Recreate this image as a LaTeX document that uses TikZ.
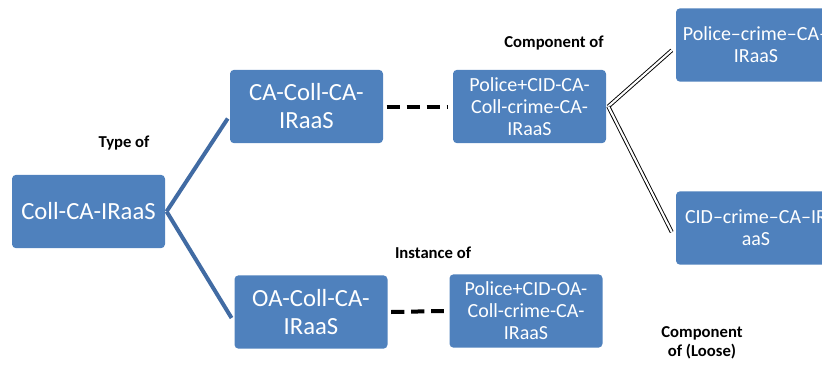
\documentclass[tikz,border=0pt]{standalone}
\usepackage{fontspec}
\setmainfont{Carlito}
\definecolor{boxblue}{RGB}{79,129,189}
\definecolor{linkblue}{RGB}{65,107,163}
\tikzset{
  box/.style={fill=boxblue, rounded corners=3pt, text=white, align=center,
    minimum width=114.75pt, minimum height=55pt, inner sep=1pt, font=\fontsize{15}{16.5}\selectfont},
  bigbox/.style={box, font=\fontsize{18.5}{21}\selectfont},
  lbl/.style={font=\bfseries\fontsize{12.5}{14}\selectfont, align=center},
  typeline/.style={linkblue, line width=3pt},
  instline/.style={black, line width=3pt, dash pattern=on 10pt off 5pt},
  compline/.style={black, double=white, double distance=1.6pt, line width=0.7pt}
}
\begin{document}
\begin{tikzpicture}[x=0.75pt, y=-0.75pt]
  \useasboundingbox (0,0) rectangle (822,365);

  % boxes
  \node[bigbox] (root) at (88.5,211.5) {Coll-CA-IRaaS};
  \node[bigbox] (ca) at (306.5,106.5) {CA-Coll-CA-\\IRaaS};
  \node[bigbox] (oa) at (311,312) {OA-Coll-CA-\\IRaaS};
  \node[box] (pca) at (529.5,106.5) {Police+CID-CA-\\Coll-crime-CA-\\IRaaS};
  \node[box] (poa) at (526,311) {Police+CID-OA-\\Coll-crime-CA-\\IRaaS};
  \node[box, minimum width=120pt] (pol) at (756,45) {Police–crime–CA–\\IRaaS};
  \node[box, minimum width=120pt] (cid) at (756,228) {CID–crime–CA–IR\\aaS};

  % type of
  \draw[typeline] ([xshift=1pt]root.east) -- ([xshift=-1.5pt,yshift=-9pt]ca.west);
  \draw[typeline] ([xshift=1pt]root.east) -- ([xshift=-2pt,yshift=-4.5pt]oa.west);

  % instance of
  \draw[instline] ([xshift=2.5pt]ca.east) -- ([xshift=-4pt]pca.west);
  \draw[instline] ([xshift=2.5pt]oa.east) -- ([xshift=-4pt]poa.west);

  % component of
  \draw[compline] ([xshift=1.5pt]pca.east) -- ([xshift=-3pt,yshift=-4pt]pol.west);
  \draw[compline] ([xshift=1.5pt]pca.east) -- ([xshift=-3pt,yshift=-3pt]cid.west);

  % labels
  \node[lbl] (ltype) at (124,143) {Type of};
  \node[lbl] (lcomp) at (554,43) {Component of};
  \node[lbl] (linst) at (433,253) {Instance of};
  \node[lbl] (lloose) at (702,343) {Component\\of (Loose)};
\end{tikzpicture}
\end{document}
